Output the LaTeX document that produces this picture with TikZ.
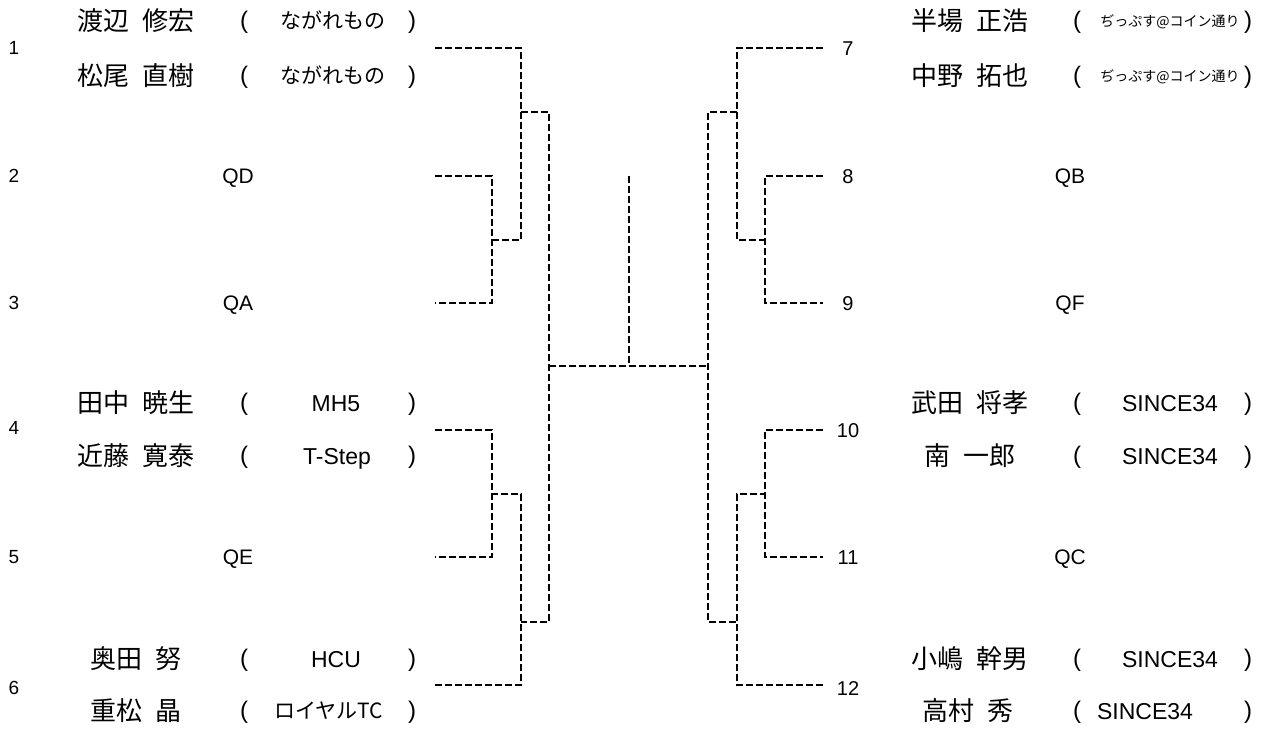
\documentclass[tikz,border=0pt]{standalone}
\usepackage{fontspec}
\setmainfont{Liberation Sans}
\newfontfamily\jp{Noto Sans CJK JP}
\usetikzlibrary{positioning}

\begin{document}
\begin{tikzpicture}[
    x=1pt, y=-1pt,
    inner sep=0pt,
    bracket/.style={draw, line width=2.7pt, dash pattern=on 7pt off 3pt},
    seedL/.style={font=\fontsize{19}{19}\selectfont, text height=13.6pt, text depth=0pt},
    seedR/.style={font=\fontsize{20}{20}\selectfont, text height=14.3pt, text depth=0pt},
    qual/.style={font=\fontsize{21}{21}\selectfont, text height=15pt, text depth=0pt},
    player/.style={font=\jp\fontsize{26}{26}\selectfont, text height=21pt, text depth=1.5pt},
    paren/.style={font=\fontsize{24}{24}\selectfont},
    club/.style={font=\fontsize{23}{23}\selectfont, text height=16.5pt, text depth=0pt},
    clubjp/.style={font=\jp\fontsize{21}{21}\selectfont, text height=17pt, text depth=1.2pt},
    tiny/.style={font=\jp\fontsize{14}{14}\selectfont, text height=11.4pt, text depth=0.8pt}
]
\useasboundingbox (0,0) rectangle (1262,729);

% --- Seed numbers ---
\foreach \y [count=\i] in {48,176,303,428,557,688}
    \node[seedL] (n\i) at (14,\y) {\i};
\foreach \y [count=\i from 7] in {48,176,303,430,557,688}
    \node[seedR] (n\i) at (848,\y) {\i};

% --- Brackets of parentheses ---
\foreach \y [count=\i] in {22,77,404,457,660,712} {
    \node[paren] (lo\i) at (244,\y) {(};
    \node[paren] (lc\i) at (412,\y) {)};
    \node[paren] (ro\i) at (1077,\y) {(};
    \node[paren] (rc\i) at (1248,\y) {)};
}

% --- Left players ---
\node[player] (p1a) at (136,21) {渡辺\enskip 修宏};
\node[player] (p1b) at (136,76) {松尾\enskip 直樹};
\node[clubjp] (c1a) at (333,21) {ながれもの};
\node[clubjp] (c1b) at (333,76) {ながれもの};
\node[qual] (q2) at (238,176) {QD};
\node[qual] (q3) at (238,303) {QA};
\node[player] (p4a) at (136,403) {田中\enskip 暁生};
\node[player] (p4b) at (136,456) {近藤\enskip 寛泰};
\node[club] (c4a) at (336,403) {MH5};
\node[club] (c4b) at (337,456) {T-Step};
\node[qual] (q5) at (238,557) {QE};
\node[player] (p6a) at (136,659) {奥田\enskip 努};
\node[player] (p6b) at (136,711) {重松\enskip 晶};
\node[club] (c6a) at (336,659) {HCU};
\node[clubjp] (c6b) at (329,711) {ロイヤルTC};

% --- Right players ---
\node[player] (p7a) at (970,21) {半場\enskip 正浩};
\node[player] (p7b) at (970,76) {中野\enskip 拓也};
\node[tiny] (c7a) at (1170,21) {ぢっぷす@コイン通り};
\node[tiny] (c7b) at (1170,76) {ぢっぷす@コイン通り};
\node[qual] (q8) at (1070,176) {QB};
\node[qual] (q9) at (1070,303) {QF};
\node[player] (p10a) at (970,403) {武田\enskip 将孝};
\node[player] (p10b) at (970,456) {南\enskip 一郎};
\node[club] (c10a) at (1170,403) {SINCE34};
\node[club] (c10b) at (1170,456) {SINCE34};
\node[qual] (q11) at (1070,557) {QC};
\node[player] (p12a) at (970,659) {小嶋\enskip 幹男};
\node[player] (p12b) at (968,711) {高村\enskip 秀};
\node[club] (c12a) at (1170,659) {SINCE34};
\node[club] (c12b) at (1145,711) {SINCE34};

% --- Bracket points ---
\foreach \y [count=\i] in {48,176,303,430,557,685}
    \coordinate (s\i) at (435,\y);
\foreach \y [count=\i from 7] in {48,176,303,430,557,685}
    \coordinate (s\i) at (823,\y);
\coordinate (m23) at (492,240);   \coordinate (k23) at (521,240);
\coordinate (m45) at (492,494);   \coordinate (k45) at (521,494);
\coordinate (j1) at (521,112);    \coordinate (j6) at (521,622);
\coordinate (l1) at (549,112);    \coordinate (l6) at (549,622);
\coordinate (m89) at (765,240);   \coordinate (k89) at (737,240);
\coordinate (m1011) at (765,494); \coordinate (k1011) at (737,494);
\coordinate (j7) at (737,112);    \coordinate (j12) at (737,622);
\coordinate (r7) at (708,112);    \coordinate (r12) at (708,622);
\coordinate (fl) at (549,366);    \coordinate (fr) at (708,366);
\coordinate (top) at (629,176);   \coordinate (mid) at (629,366);

% --- Left half ---
\draw[bracket] (s2) -| (m23) |- (s3);
\draw[bracket] (s1) -| (k23) -- (m23);
\draw[bracket] (s4) -| (m45) |- (s5);
\draw[bracket] (s6) -| (k45) -- (m45);
\draw[bracket] (j1) -- (l1) -- (l6) -- (j6);

% --- Right half ---
\draw[bracket] (s8) -| (m89) |- (s9);
\draw[bracket] (s7) -| (k89) -- (m89);
\draw[bracket] (s10) -| (m1011) |- (s11);
\draw[bracket] (s12) -| (k1011) -- (m1011);
\draw[bracket] (j7) -- (r7) -- (r12) -- (j12);

% --- Final ---
\draw[bracket] (fl) -- (fr);
\draw[bracket] (top) -- (mid);

\end{tikzpicture}
\end{document}
